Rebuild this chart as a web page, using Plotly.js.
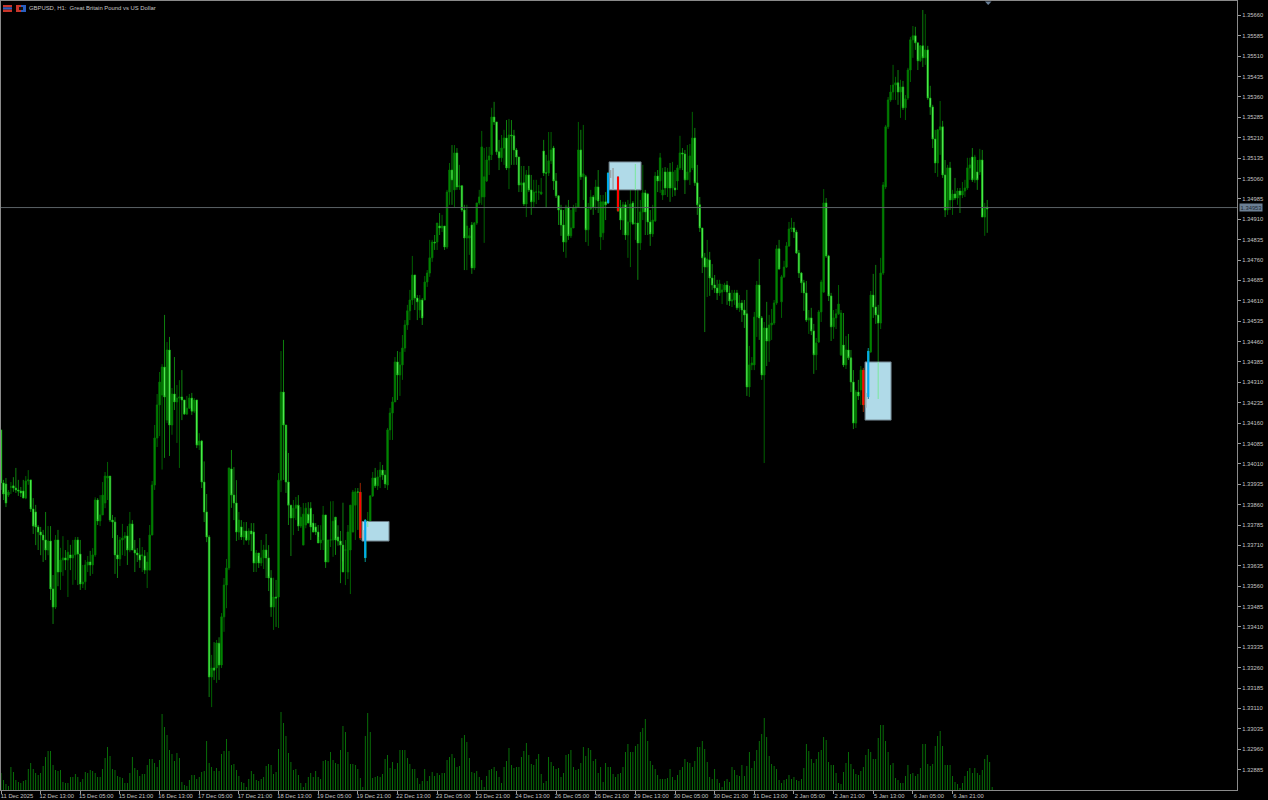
<!DOCTYPE html>
<html>
<head>
<meta charset="utf-8">
<script src="https://cdn.plot.ly/plotly-3.0.1.min.js"></script>
<style>html,body{margin:0;padding:0;background:#000}#c{width:1268px;height:800px}</style>
</head>
<body>
<div id="c"></div>
<script>
// Prices are stored as points above 1.30000 (3914 means 1.33914)
const opens = [4135,3940,3936,3895,3925,3929,3921,3914,3910,3910,3884,3947,3951,3844,3833,3778,
3759,3748,3730,3693,3726,3550,3483,3730,3612,3656,3664,3656,3675,3664,3675,3730,
3678,3568,3576,3638,3649,3638,3675,3877,3800,3822,3866,3958,3965,3803,3796,3675,
3660,3730,3737,3745,3693,3789,3693,3682,3675,3671,3671,3619,3619,3748,3932,4105,
4227,4263,4366,4171,4429,4153,4267,4238,4252,4256,4245,4193,4215,4252,4204,4245,
4079,4094,3943,3833,3741,3226,3259,3259,3350,3270,3447,3564,3627,3991,3895,3866,
3759,3778,3741,3763,3730,3763,3759,3645,3682,3645,3664,3693,3664,3590,3483,3520,
3520,3950,4274,4153,3943,3858,3811,3847,3858,3781,3711,3785,3825,3847,3792,3778,
3759,3719,3730,3822,3649,3730,3730,3814,3741,3726,3711,3693,3612,3693,3759,3858,
3906,3906,3737,3803,3767,3778,3892,3958,3929,3962,3987,3969,3932,4135,4197,4238,
4385,4337,4374,4436,4521,4573,4613,4705,4620,4576,4613,4613,4679,4712,4768,4826,
4826,4885,4878,4885,4808,5010,5091,5018,5154,5029,5033,4944,4841,4841,4889,4731,
4896,4970,4992,4992,5051,5128,5147,5286,5268,5158,5136,5172,5209,5099,5220,5217,
5165,5139,5036,5044,4966,5073,5018,4974,5010,5010,5003,5161,5080,5080,5125,5172,
5051,4996,4944,4889,4826,4955,4849,4878,4952,4955,5165,5066,5066,4871,4948,4992,
4981,5029,4845,4860,4974,5080,5073,5084,5062,5066,4952,4907,4963,4852,4900,4970,
4893,4896,4823,4937,5007,5003,4900,4856,4904,5069,5051,4999,5084,5025,5084,5025,
5025,5051,5099,5154,5150,5055,5084,5099,5209,5044,4963,4878,4768,4734,4760,4694,
4668,4657,4639,4642,4650,4668,4639,4609,4613,4639,4584,4602,4576,4562,4293,4374,
4374,4550,4668,4547,4337,4510,4462,4521,4528,4602,4801,4606,4698,4734,4812,4874,
4878,4863,4786,4712,4676,4639,4539,4547,4499,4411,4458,4569,4642,4970,4775,4628,
4514,4547,4562,4411,4447,4374,4429,4400,4311,4160,4274,4282,4355,4256,4425,4422,
4631,4587,4558,4528,4712,5029,5250,5349,5378,5404,5412,5378,5397,5320,5356,5459,
5570,5585,5559,5493,5548,5504,5533,5356,5323,5205,5117,5239,5250,5073,4944,5099,
4981,5003,4988,5014,4999,5014,5025,5099,5139,5055,5084,5084,5128,4918,4955];
const highs = [4135,3951,3958,3914,3943,3961,3995,3951,3925,3951,3965,3987,3951,3884,3859,3785,
3778,3767,3833,3781,3781,3601,3748,3767,3701,3744,3693,3730,3712,3730,3741,3741,
3730,3638,3656,3671,3690,3700,3887,3884,3895,3943,3980,4017,3958,3822,3814,3748,
3741,3789,3759,3781,3833,3803,3730,3700,3737,3704,3693,3685,3785,3947,4153,4267,
4348,4377,4558,4458,4477,4289,4403,4300,4318,4355,4245,4260,4267,4271,4252,4245,
4123,4098,4019,3899,3748,3307,3354,3362,3372,3461,3590,3660,3671,4061,3998,3950,
3833,3803,3796,3796,3773,3792,3792,3693,3671,3730,3712,3752,3711,3619,3591,3583,
3976,4425,4466,4058,4050,3858,3877,3888,3895,3851,3866,3866,3869,3869,3825,3792,
3785,3784,3855,3822,3722,3872,3873,3803,3784,3763,3867,3730,3785,3826,3914,3921,
3921,3940,3767,3807,3833,3895,3980,3995,3987,4017,4006,3987,4142,4216,4256,4403,
4425,4422,4484,4539,4595,4650,4775,4705,4631,4631,4620,4701,4723,4834,4834,4852,
4896,4933,4926,4885,5018,5117,5183,5183,5172,5110,5036,4963,4963,4878,4900,4900,
4970,5018,5235,5172,5176,5176,5320,5342,5268,5202,5220,5239,5275,5279,5275,5239,
5172,5139,5106,5106,5091,5106,5073,5055,5055,5036,5062,5202,5147,5231,5231,5180,
5080,4999,4963,4944,4963,4981,4944,4963,4970,5268,5239,5257,5073,4970,5018,4999,
5055,5091,4999,4999,5010,5084,5099,5099,5073,5069,4981,4974,4974,4981,5080,4977,
5113,5062,4981,5110,5018,5007,4944,4963,5084,5091,5154,5099,5102,5099,5117,5121,
5091,5110,5217,5172,5165,5183,5187,5305,5246,5110,4992,4878,4786,4834,4790,4745,
4705,4687,4687,4672,4676,4683,4665,4650,4650,4650,4631,4613,4613,4650,4444,4403,
4569,4683,4764,4554,4532,4606,4558,4580,4613,4815,4834,4705,4757,4826,4900,4915,
4900,4871,4797,4716,4687,4683,4576,4584,4525,4473,4576,4687,5021,4988,4779,4639,
4576,4580,4668,4576,4565,4480,4488,4429,4355,4282,4319,4370,4363,4271,4436,4646,
4709,4742,4595,4768,5047,5257,5360,5404,5478,5434,5459,5423,5419,5367,5467,5581,
5621,5618,5559,5551,5680,5665,5548,5401,5331,5239,5242,5345,5272,5128,5110,5121,
5018,5062,5025,5025,5047,5055,5136,5136,5172,5147,5128,5169,5165,4970,4981];
const lows = [3914,3877,3851,3888,3899,3907,3903,3892,3888,3884,3880,3933,3833,3752,3711,3693,
3674,3649,3656,3674,3509,3421,3476,3560,3546,3598,3619,3520,3619,3565,3583,3564,
3546,3553,3546,3612,3598,3605,3668,3785,3781,3858,3847,3877,3796,3737,3605,3590,
3634,3674,3671,3638,3685,3693,3612,3649,3627,3612,3605,3553,3619,3774,3914,4072,
4112,3989,4032,4160,4039,4117,4208,4087,3995,4171,4190,4190,4212,4190,4197,4068,
4061,3921,3796,3722,3152,3115,3215,3204,3215,3259,3392,3479,3619,3848,3803,3726,
3730,3730,3712,3726,3712,3689,3612,3612,3627,3634,3623,3590,3542,3447,3399,3410,
3406,3906,3951,3903,3785,3671,3748,3803,3763,3774,3711,3773,3803,3730,3767,3748,
3741,3693,3693,3627,3660,3704,3668,3675,3709,3571,3651,3564,3586,3531,3796,3730,
3767,3730,3730,3649,3763,3774,3888,3921,3914,3921,3951,3921,3914,4098,4098,4238,
4245,4260,4319,4422,4503,4539,4595,4576,4539,4547,4521,4613,4661,4698,4753,4797,
4797,4852,4863,4797,4801,4963,4963,4955,5018,5018,4937,4723,4723,4779,4709,4723,
4889,4963,4963,4823,5047,5073,5128,5257,5147,5091,5121,5110,5091,5021,5110,5110,
5110,5010,5010,4959,4918,5010,4926,4955,4966,4981,4999,5069,4952,5069,5113,5018,
4988,4889,4849,4790,4768,4834,4841,4878,4937,4952,5055,4981,4826,4812,4944,4926,
4944,4933,4797,4834,4907,4966,5018,5018,5047,4937,4871,4852,4834,4768,4734,4889,
4834,4687,4797,4907,4852,4852,4812,4845,4900,5010,5007,4981,4999,4992,4974,4992,
4996,5018,5091,5091,5003,5055,5036,5091,5033,4926,4863,4712,4495,4624,4628,4650,
4639,4613,4628,4598,4642,4595,4591,4587,4595,4576,4569,4532,4510,4260,4256,4355,
4355,4477,4466,4319,4013,4370,4385,4466,4521,4595,4723,4547,4694,4731,4808,4863,
4841,4782,4694,4639,4573,4532,4488,4484,4341,4355,4455,4532,4639,4768,4609,4462,
4470,4506,4558,4407,4366,4359,4392,4274,4138,4142,4245,4227,4201,4216,4249,4418,
4547,4525,4249,4506,4705,5021,5242,5342,5349,5349,5331,5283,5312,5275,5349,5415,
5504,5533,5459,5489,5470,5478,5349,5294,5172,5080,5066,5147,5062,4918,4926,4944,
4926,4981,4963,4933,4988,4992,5018,5055,5047,5044,5018,5073,4918,4849,4860];
const closes = [3940,3899,3866,3906,3925,3921,3914,3910,3903,3884,3947,3951,3844,3781,3778,3759,
3748,3730,3693,3726,3550,3483,3730,3612,3656,3664,3656,3685,3664,3675,3730,3678,
3568,3575,3638,3649,3638,3675,3877,3800,3822,3895,3965,3965,3803,3796,3675,3660,
3730,3737,3745,3693,3789,3693,3682,3675,3656,3675,3619,3649,3748,3932,4105,4227,
4311,4366,4256,4429,4153,4267,4238,4252,4256,4245,4193,4215,4252,4204,4245,4079,
4094,3943,3833,3741,3226,3259,3251,3351,3270,3447,3564,3627,3995,3895,3866,3759,
3803,3741,3763,3730,3763,3752,3645,3682,3645,3664,3693,3664,3590,3483,3520,3516,
3950,4274,4153,3943,3858,3811,3847,3858,3781,3814,3825,3847,3792,3778,3759,3759,
3719,3730,3822,3649,3730,3730,3799,3730,3726,3711,3612,3693,3759,3858,3906,3907,
3906,3737,3752,3664,3785,3892,3958,3929,3962,3987,3969,3936,4135,4197,4238,4385,
4337,4374,4436,4521,4573,4613,4705,4620,4606,4613,4547,4679,4712,4768,4826,4823,
4896,4878,4885,4808,5010,5091,5055,5154,5029,5033,4944,4841,4885,4849,4731,4896,
4970,4992,5176,5066,5128,5143,5286,5268,5158,5136,5172,5209,5099,5220,5217,5165,
5139,5036,5044,4966,5073,5018,4974,5010,5010,5010,5010,5080,5080,5125,5165,5051,
4996,4944,4889,4826,4955,4849,4878,4952,4955,5165,5066,5077,4871,4948,4992,4955,
5029,4977,4974,4974,4963,4970,5062,5055,5062,4941,4907,4963,4852,4900,4966,4893,
4896,4823,4937,5007,4937,4900,4856,4907,5069,5051,5136,5018,5025,5084,5025,5084,
5018,5099,5154,5150,5055,5084,5143,5209,5044,4963,4878,4768,4734,4764,4694,4668,
4657,4639,4672,4650,4668,4642,4609,4613,4639,4584,4602,4576,4558,4293,4374,4381,
4550,4668,4547,4337,4510,4462,4521,4528,4602,4801,4727,4698,4734,4812,4874,4878,
4863,4786,4712,4676,4639,4539,4547,4499,4411,4455,4569,4679,4970,4775,4628,4514,
4547,4562,4598,4565,4374,4429,4400,4311,4160,4274,4260,4355,4227,4227,4256,4631,
4587,4558,4528,4712,5036,5250,5349,5378,5404,5412,5378,5397,5320,5353,5459,5570,
5585,5559,5493,5548,5504,5533,5356,5323,5205,5117,5239,5250,5073,4944,5099,4981,
5003,4988,5014,4999,5014,5025,5099,5110,5055,5139,5055,5128,4918,4955,4948];
const volumes = [17,10,6,4,23,18,10,8,7,9,10,21,27,21,17,15,17,24,33,39,39,25,20,19,20,8,7,7,13,13,16,13,8,11,18,17,20,19,17,13,13,21,32,43,34,21,20,14,13,12,7,7,17,33,22,20,14,16,16,25,31,31,27,23,30,76,63,55,40,36,29,37,32,8,5,4,10,15,15,11,13,18,19,49,27,23,19,22,19,36,39,51,39,25,26,20,14,8,7,3,11,19,16,10,9,11,13,24,26,25,16,18,41,78,67,54,37,28,20,21,15,7,3,7,13,17,13,19,13,11,29,30,29,
38,30,27,26,40,64,58,38,26,26,25,21,12,3,54,77,58,12,13,14,13,16,31,35,22,28,21,27,40,40,40,32,26,21,21,12,6,9,21,9,14,18,14,17,15,17,17,30,33,36,32,23,24,52,55,48,32,18,17,19,13,10,3,14,20,21,23,19,13,7,23,29,42,25,22,23,23,33,39,47,35,26,25,31,36,16,7,9,33,28,24,21,22,13,17,35,36,40,23,20,21,27,43,34,42,40,29,31,17,23,8,27,23,23,16,13,16,17,23,38,46,38,38,44,46,58,62,71,49,29,25,21,15,11,11,11,12,21,13,10,15,20,23,31,28,27,23,29,43,43,49,41,28,13,11,21,11,7,3,9,11,8,23,20,15,14,25,14,24,38,22,29,40,49,56,72,53,34,26,24,21,10,7,10,11,15,11,13,10,9,11,22,46,39,31,27,31,38,40,53,50,28,25,25,17,7,6,18,27,38,26,21,16,15,19,23,35,41,38,31,31,52,65,65,49,38,25,27,12,10,7,7,14,25,16,17,14,16,22,46,46,26,24,26,44,54,59,44,25,25,25,14,8,6,2,7,14,19,22,17,22,17,15,20,31,35,28,3];
const tickIndex = [0,16,32,48,64,80,96,112,128,144,160,176,192,208,224,240,256,272,288,304,320,336,352,368,384];
const tickLabels = ["11 Dec 2025","12 Dec 13:00","15 Dec 05:00","15 Dec 21:00","16 Dec 13:00","17 Dec 05:00","17 Dec 21:00","18 Dec 13:00","19 Dec 05:00","19 Dec 21:00","22 Dec 13:00","23 Dec 05:00","23 Dec 21:00","24 Dec 13:00","26 Dec 05:00","26 Dec 21:00","29 Dec 13:00","30 Dec 05:00","30 Dec 21:00","31 Dec 13:00","2 Jan 05:00","2 Jan 21:00","5 Jan 13:00","6 Jan 05:00","6 Jan 21:00"];
const priceTicks = [5660,5585,5510,5435,5360,5285,5210,5135,5060,4985,4910,4835,4760,4685,4610,4535,4460,4385,4310,4235,4160,4085,4010,3935,3860,3785,3710,3635,3560,3485,3410,3335,3260,3185,3110,3035,2960,2885];
const lastPrice = 4953;
const redBars = [145,249,348];
const blueBars = [147,245,350];
const zoneLeft = [145.7,245.4,348.7];
const zoneRight = [156.6,258.3,359.2];
const zoneTop = [3798,5121,4385];
const zoneBottom = [3726,5018,4171];
const paleBars = [148,256,354];
const paleTop = [3800,5113,4385];
const paleBottom = [3778,5018,4249];
const greyBars = [146,246,247,349];
const greyTop = [3767,5091,5099,4271];
const greyBottom = [3730,5062,5018,4216];

const pr = p => +(1.3 + p/1e5).toFixed(5);
const n = Math.min(opens.length, highs.length, lows.length, closes.length);
const idx = Array.from({length:n}, (_,i)=>i);

const traces = [];
traces.push({type:'candlestick', x:idx, open:opens.slice(0,n).map(pr), high:highs.slice(0,n).map(pr), low:lows.slice(0,n).map(pr), close:closes.slice(0,n).map(pr),
  increasing:{line:{color:'#007a00',width:0.8},fillcolor:'#008a00'},
  decreasing:{line:{color:'#14b814',width:0.7},fillcolor:'#66ff66'},
  hoverinfo:'skip', showlegend:false, xaxis:'x', yaxis:'y'});
zoneLeft.forEach((l,k)=>traces.push({type:'scatter', mode:'lines', x:[l,zoneRight[k],zoneRight[k],l,l],
  y:[zoneTop[k],zoneTop[k],zoneBottom[k],zoneBottom[k],zoneTop[k]].map(pr), fill:'toself', fillcolor:'#b0dae8',
  line:{color:'#6c7c86',width:1}, hoverinfo:'skip', showlegend:false, xaxis:'x', yaxis:'y'}));
const column = (list, top, bot, color, width, name) => ({type:'bar', x:list, base:bot.map(pr), y:top.map((t,i)=>pr(t)-pr(bot[i])),
  width:width, marker:{color:color,line:{width:0}}, hoverinfo:'skip', showlegend:false, name:name, xaxis:'x', yaxis:'y2'});
const upper = (list)=>list.map(i=>Math.max(opens[i],closes[i]));
const lower = (list)=>list.map(i=>Math.min(opens[i],closes[i]));
traces.push(column(paleBars, paleTop, paleBottom, '#7fe6a4', 0.45, 'pale'));
traces.push(column(greyBars, greyTop, greyBottom, '#9aa5a8', 0.6, 'grey'));
traces.push(column(redBars, redBars.map(i=>highs[i]), redBars.map(i=>lows[i]), '#a00000', 0.35, 'red wick'));
traces.push(column(redBars, upper(redBars), lower(redBars), '#ff0000', 0.85, 'red body'));
traces.push(column(blueBars, blueBars.map(i=>highs[i]), blueBars.map(i=>lows[i]), '#0070a0', 0.35, 'blue wick'));
traces.push(column(blueBars, upper(blueBars), lower(blueBars), '#00a8f0', 0.85, 'blue body'));
traces.push({type:'bar', x:volumes.map((_,i)=>i), y:volumes, width:0.32, marker:{color:'#0a8a0a',line:{width:0}}, hoverinfo:'skip', showlegend:false, xaxis:'x', yaxis:'y3'});

const W=1268,H=800,L=1,R=31,T=1,B=10;
const xp = x => (x-L)/(W-L-R);
const yp = y => 1-(y-T)/(H-T-B);
const box = (x0,y0,x1,y1,c) => ({type:'rect',xref:'paper',yref:'paper',x0:xp(x0),x1:xp(x1),y0:yp(y0),y1:yp(y1),fillcolor:c,line:{width:0},layer:'above'});
const shapes = [
  {type:'line',xref:'paper',x0:0,x1:1,yref:'y',y0:pr(lastPrice),y1:pr(lastPrice),line:{color:'#5b6266',width:1},layer:'above'},
  box(3,5,12,7.3,'#c8352a'),box(3,7.3,12,9.6,'#2a5fc0'),box(3,9.6,12,12,'#c8352a'),
  box(16,5,21,12,'#c8352a'),box(21,5,26,12,'#2a5fc0'),box(19,7,23,10,'#111'),
  {type:'path',xref:'paper',yref:'paper',path:`M ${xp(985)} ${yp(1.5)} L ${xp(991.5)} ${yp(1.5)} L ${xp(988.2)} ${yp(5)} Z`,fillcolor:'#6b8098',line:{width:0},layer:'above'}
];
const tickFont = {family:'"Liberation Sans", Arial, sans-serif',size:5.8,color:'#c4c4c4'};
const layout = {
  width:W,height:H,margin:{l:L,r:R,t:T,b:B,pad:0},paper_bgcolor:'#000',plot_bgcolor:'#000',
  showlegend:false,dragmode:false,barmode:'overlay',boxgap:0.12,
  title:{text:'GBPUSD, H1:  Great Britain Pound vs US Dollar',x:29/W,xanchor:'left',xref:'container',y:1-7.5/H,yref:'container',yanchor:'middle',
    font:{family:'"Liberation Sans", Arial, sans-serif',size:5.9,color:'#c4c4c4'}},
  xaxis:{range:[0,498.8],type:'linear',tickmode:'array',tickvals:tickIndex,ticktext:tickLabels,ticks:'outside',ticklen:3,tickwidth:1,tickcolor:'#9a9a9a',
    ticklabelshift:16,ticklabelstandoff:-3,tickangle:0,tickfont:tickFont,showgrid:false,zeroline:false,showline:true,mirror:true,linecolor:'#8a8a8a',linewidth:1,fixedrange:true,rangeslider:{visible:false}},
  yaxis:{range:[pr(2810),pr(5713)],side:'right',tickmode:'array',tickvals:priceTicks.map(pr),ticktext:priceTicks.map(p=>pr(p).toFixed(5)),ticks:'outside',ticklen:3,tickwidth:1,tickcolor:'#9a9a9a',
    tickfont:tickFont,showgrid:false,zeroline:false,showline:true,mirror:true,linecolor:'#8a8a8a',linewidth:1,fixedrange:true},
  yaxis2:{overlaying:'y',range:[pr(2810),pr(5713)],visible:false,fixedrange:true},
  yaxis3:{overlaying:'y',range:[0,789],visible:false,fixedrange:true},
  shapes:shapes,
  annotations:[{xref:'paper',yref:'y',x:xp(1238.5),y:pr(lastPrice),xanchor:'left',yanchor:'middle',showarrow:false,text:pr(lastPrice).toFixed(5),
    font:{family:'"Liberation Sans", Arial, sans-serif',size:5.8,color:'#1c2a34'},bgcolor:'#6c8094',borderpad:0.6}]
};
Plotly.newPlot('c',traces,layout,{staticPlot:true,displayModeBar:false});
</script>
</body>
</html>
